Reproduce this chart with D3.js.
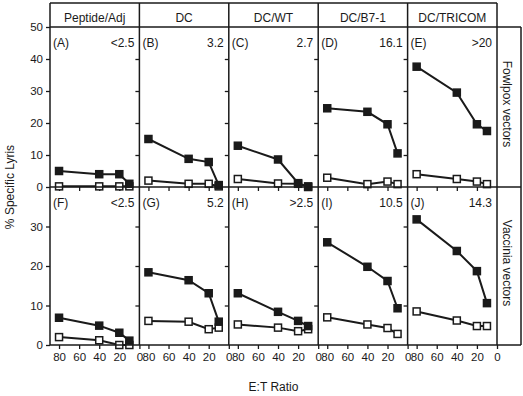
<!DOCTYPE html>
<html><head><meta charset="utf-8">
<script src="https://cdn.jsdelivr.net/npm/d3@7"></script>
<style>
body{margin:0;background:#fff;}
svg{display:block;font-family:"Liberation Sans",Arial,sans-serif;}
</style></head>
<body><svg id="c" width="523" height="396"></svg>
<script>
const ratios = [80, 40, 20, 10];
const headers = ["Peptide/Adj", "DC", "DC/WT", "DC/B7-1", "DC/TRICOM"];
const topLetters = ["(A)", "(B)", "(C)", "(D)", "(E)"];
const botLetters = ["(F)", "(G)", "(H)", "(I)", "(J)"];
const topValues = ["<2.5", "3.2", "2.7", "16.1", ">20"];
const botValues = ["<2.5", "5.2", ">2.5", "10.5", "14.3"];
const rowLabels = ["Fowlpox vectors", "Vaccinia vectors"];
const fowlFilled = [
  [5, 4, 4, 1],
  [15, 8.8, 7.8, 0.6],
  [12.9, 8.6, 1.2, 0],
  [24.6, 23.5, 19.6, 10.5],
  [37.6, 29.5, 19.6, 17.5]
];
const fowlOpen = [
  [0.2, 0.2, 0.2, 0.2],
  [2, 1, 1, 0.2],
  [2.5, 1.1, 1, 0.2],
  [2.9, 0.9, 1.7, 0.9],
  [4.0, 2.5, 1.7, 0.9]
];
const vacFilled = [
  [6.9, 4.9, 3.1, 1.1],
  [18.4, 16.4, 13.1, 5.9],
  [13.1, 8.4, 6.1, 4.8],
  [26, 19.8, 16.2, 9.3],
  [31.8, 23.8, 18.7, 10.6]
];
const vacOpen = [
  [2.0, 1.2, 0, 0],
  [6.1, 5.9, 4.0, 4.4],
  [5.2, 4.4, 3.5, 4.0],
  [7.0, 5.2, 4.3, 2.8],
  [8.5, 6.2, 4.8, 4.8]
];
const topYTicks = [0, 10, 20, 30, 40, 50];
const botYTicks = [0, 10, 20, 30];
const xTicks = [80, 60, 40, 20, 0];
const yLabel = "% Specific Lyris";
const xLabel = "E:T Ratio";

const svg = d3.select("#c");
const ink = "#1a1a1a";
const L = 50, R = 497, T = 27, M = 187, B = 345, H0 = 3, RB = 521;
const pw = (R - L) / 5;

const yTop = d3.scaleLinear().domain([0, 50]).range([M, T]);
const yBot = d3.scaleLinear().domain([0, 40]).range([B, M]);
const rows = [
  {y: yTop, filled: fowlFilled, open: fowlOpen, letters: topLetters, values: topValues, yt: topYTicks, labels: true},
  {y: yBot, filled: vacFilled, open: vacOpen, letters: botLetters, values: botValues, yt: botYTicks, labels: false}
];

function styleAxis(g) {
  g.select(".domain").remove();
  g.selectAll("line").attr("stroke", ink).attr("stroke-width", 1.3);
  g.selectAll("text").attr("fill", ink).attr("font-size", "11.5px");
}

rows.forEach((row, ri) => {
  // left y axis with labels
  const ax = svg.append("g").attr("transform", `translate(${L},0)`)
    .call(d3.axisLeft(row.y).tickValues(row.yt).tickSize(4).tickPadding(3).tickFormat(d3.format("d")));
  styleAxis(ax);
  for (let p = 0; p < 5; p++) {
    const x0 = L + p * pw;
    const x = d3.scaleLinear().domain([89, 0]).range([x0, x0 + pw]);
    // inner ticks on right divider (except last)
    if (p < 4) {
      const ia = svg.append("g").attr("transform", `translate(${x0 + pw},0)`)
        .call(d3.axisLeft(row.y).tickValues(row.yt.filter(v => v > 0 && v < row.y.domain()[1])).tickSize(4).tickFormat(""));
      styleAxis(ia);
    }
    // x axis
    const base = row.y(0);
    const xa = svg.append("g").attr("transform", `translate(0,${base})`)
      .call(d3.axisBottom(x).tickValues(ri === 1 ? xTicks : xTicks.filter(v => v > 0)).tickSize(4).tickPadding(4)
        .tickFormat(ri === 1 ? d3.format("d") : ""));
    styleAxis(xa);
    xa.selectAll("text").attr("font-size", "11.5px");

    const pts = (arr) => ratios.map((r, i) => [x(r), row.y(arr[p][i])]);
    const line = d3.line();
    [["open", "#fff"], ["filled", ink]].forEach(([k, fill]) => {
      const P = pts(row[k]);
      svg.append("path").attr("d", line(P)).attr("fill", "none").attr("stroke", ink).attr("stroke-width", 2);
      svg.append("g").selectAll("rect").data(P).join("rect")
        .attr("x", d => d[0] - 3.5).attr("y", d => d[1] - 3.5)
        .attr("width", 7).attr("height", 7)
        .attr("fill", fill).attr("stroke", ink).attr("stroke-width", 1.5);
    });
    const yTopPx = row.y(row.y.domain()[1]);
    svg.append("text").attr("x", x0 + 3).attr("y", yTopPx + 20).attr("font-size", "12px").attr("fill", ink).text(row.letters[p]);
    svg.append("text").attr("x", x0 + pw - 5).attr("y", yTopPx + 20).attr("text-anchor", "end").attr("font-size", "12px").attr("fill", ink).text(row.values[p]);
  }
  // row label
  const cy = (row.y.range()[0] + row.y.range()[1]) / 2 - 3;
  svg.append("text").attr("transform", `translate(${R + 6},${cy}) rotate(90)`)
    .attr("text-anchor", "middle").attr("font-size", "12px").attr("fill", ink).text(rowLabels[ri]);
});

// headers
headers.forEach((h, p) => {
  svg.append("text").attr("x", L + p * pw + pw / 2).attr("y", 22).attr("text-anchor", "middle")
    .attr("font-size", "12px").attr("fill", ink).text(h);
});

// frame lines
const fl = [];
fl.push([L, H0, R, H0]);
fl.push([L, T, RB, T]);
fl.push([L, M, RB, M]);
fl.push([L, B, RB, B]);
for (let p = 0; p <= 5; p++) fl.push([L + p * pw, H0, L + p * pw, B]);
fl.push([RB, T, RB, B]);
svg.append("g").selectAll("line").data(fl).join("line")
  .attr("x1", d => d[0]).attr("y1", d => d[1]).attr("x2", d => d[2]).attr("y2", d => d[3])
  .attr("stroke", ink).attr("stroke-width", 1.5);

// redraw markers above frame where needed
svg.selectAll("g rect").raise();

svg.append("text").attr("transform", `translate(14,${M}) rotate(-90)`).attr("text-anchor", "middle")
  .attr("font-size", "12px").attr("fill", ink).text(yLabel);
svg.append("text").attr("x", (L + R) / 2).attr("y", 391).attr("text-anchor", "middle")
  .attr("font-size", "12px").attr("fill", ink).text(xLabel);
</script></body></html>
